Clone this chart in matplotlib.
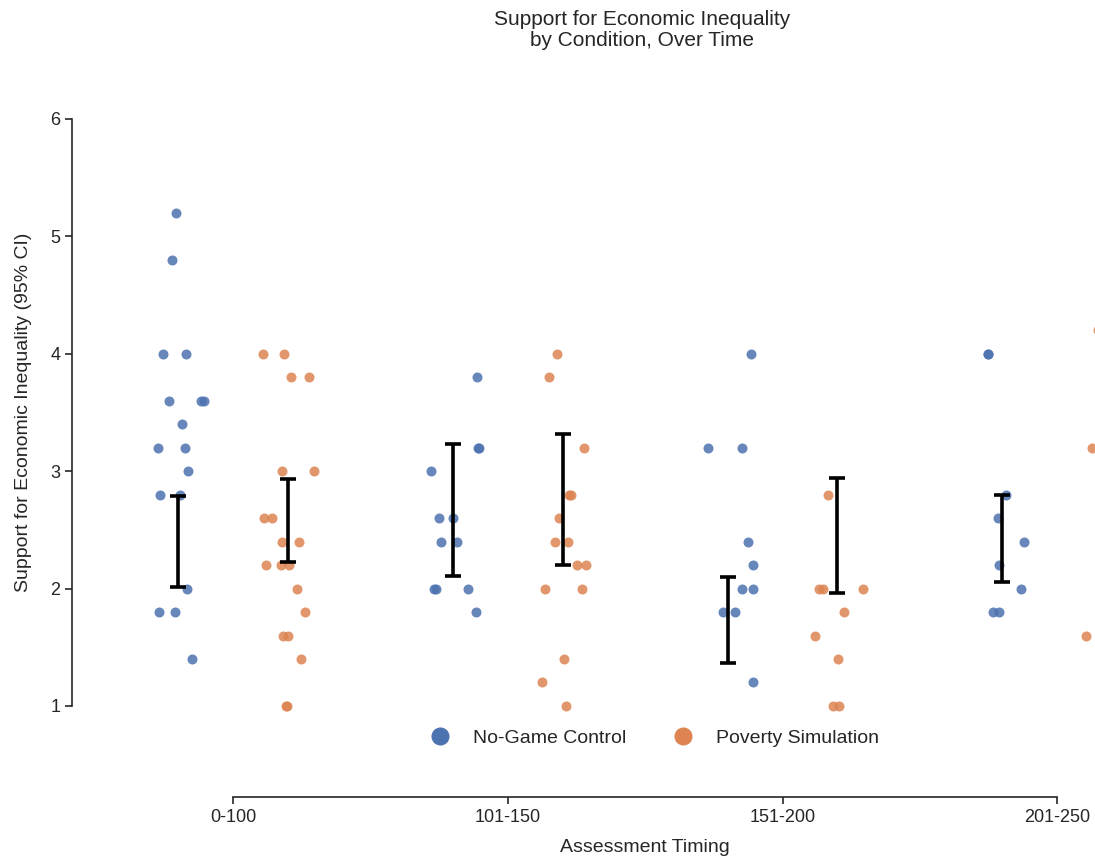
import numpy as np
import matplotlib.pyplot as plt
from matplotlib.lines import Line2D

plt.rcParams['font.family'] = ['Liberation Sans', 'DejaVu Sans']

timings = ['0-100', '101-150', '151-200', '201-250']
conditions = ['No-Game Control', 'Poverty Simulation']
colors = ['#4C72B0', '#DD8452']

# individual scores
control = [
    [5.2, 4.8, 4.0, 4.0, 3.6, 3.6, 3.6, 3.4, 3.2, 3.2, 3.0, 2.8, 2.8, 2.0, 1.8, 1.8, 1.4],
    [3.8, 3.2, 3.2, 3.0, 2.6, 2.6, 2.4, 2.4, 2.0, 2.0, 2.0, 1.8],
    [4.0, 3.2, 3.2, 2.4, 2.2, 2.0, 2.0, 1.8, 1.8, 1.2],
    [4.0, 4.0, 2.8, 2.6, 2.4, 2.2, 2.0, 1.8, 1.8],
]
poverty = [
    [4.0, 4.0, 3.8, 3.8, 3.0, 3.0, 2.6, 2.6, 2.4, 2.4, 2.2, 2.2, 2.2, 2.0, 1.8, 1.6, 1.6, 1.4, 1.0, 1.0],
    [4.0, 3.8, 3.2, 2.8, 2.8, 2.6, 2.4, 2.4, 2.2, 2.2, 2.0, 2.0, 1.4, 1.2, 1.0],
    [2.8, 2.0, 2.0, 2.0, 1.8, 1.6, 1.4, 1.0, 1.0],
    [4.2, 3.2, 1.6],
]

# 95% CI bounds
control_lo = [2.01, 2.11, 1.37, 2.06]
control_hi = [2.79, 3.23, 2.10, 2.80]
poverty_lo = [2.23, 2.20, 1.96, 2.30]
poverty_hi = [2.93, 3.32, 2.94, 3.40]

fig = plt.figure(figsize=(10.95, 8.64), dpi=100)
ax = fig.add_axes([96 / 1095, 99 / 864, 999 / 1095, 660 / 864])

# strip-plot jitter, drawn in one go
n_pts = sum(len(v) for v in control + poverty)
jitter = np.random.default_rng(211).uniform(-0.095, 0.095, n_pts)

dodge = 0.2
k = 0
groups = [(control, control_lo, control_hi, -dodge), (poverty, poverty_lo, poverty_hi, dodge)]
for (vals, lo, hi, off), col in zip(groups, colors):
    for i, v in enumerate(vals):
        x = i + off + jitter[k:k + len(v)]
        k += len(v)
        ax.scatter(x, v, s=52, color=col, alpha=0.85, linewidths=0, zorder=2)
    xs = np.arange(len(timings)) + off
    mid = (np.array(lo) + np.array(hi)) / 2
    err = (np.array(hi) - np.array(lo)) / 2
    ax.errorbar(xs, mid, yerr=err, fmt='none', ecolor='black', elinewidth=2.6,
                capsize=6, capthick=2.6, zorder=3)

ax.set_xlim(-0.5, 3.138)
ax.set_ylim(0.497, 6.119)
ax.set_xticks(range(len(timings)))
ax.set_xticklabels(timings)
ax.set_yticks([1, 2, 3, 4, 5, 6])

for s in ['top', 'right']:
    ax.spines[s].set_visible(False)
ax.spines['left'].set_position(('outward', 17))
ax.spines['bottom'].set_position(('outward', 23))
ax.spines['left'].set_bounds(1, 6)
ax.spines['bottom'].set_bounds(0, 3)
for s in ['left', 'bottom']:
    ax.spines[s].set_linewidth(1.2)
    ax.spines[s].set_color('#262626')
ax.tick_params(axis='both', labelsize=13, colors='#262626', width=1.2, length=5)

ax.set_xlabel('Assessment Timing', fontsize=14, color='#262626')
ax.xaxis.set_label_coords(0.5495, -0.112)
ax.set_ylabel('Support for Economic Inequality (95% CI)', fontsize=14, color='#262626')
ax.yaxis.set_label_coords(-0.064, 0.535)

fig.text(642 / 1095, 1 - 10 / 864, 'Support for Economic Inequality\nby Condition, Over Time',
         ha='center', va='top', fontsize=15, color='#262626', linespacing=1.1)

handles = [Line2D([], [], marker='o', ls='', color=c, markersize=12) for c in colors]
fig.legend(handles, conditions, loc='center', bbox_to_anchor=(650 / 1095, 1 - 738 / 864),
           ncol=2, frameon=False, fontsize=14, handletextpad=0.7, columnspacing=1.9,
           labelcolor='#262626')

fig.savefig('out.png', dpi=100)
